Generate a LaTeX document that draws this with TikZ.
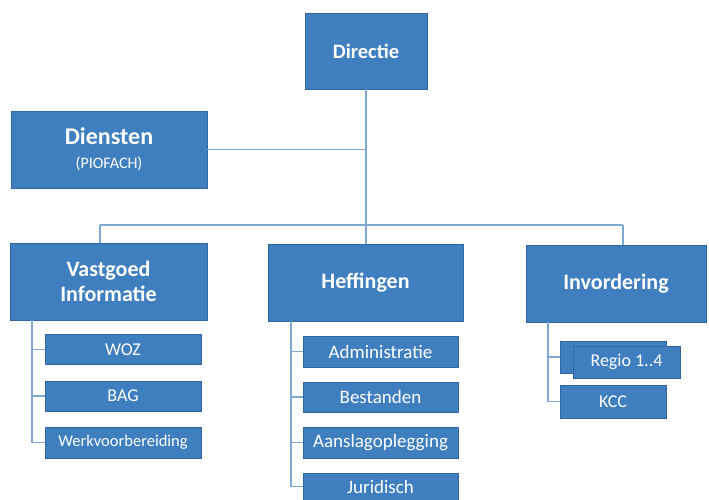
\documentclass[tikz,border=0pt]{standalone}
\usepackage{fontspec}
\setmainfont{Carlito}
\definecolor{boxfill}{HTML}{3F7FC0}
\definecolor{boxedge}{HTML}{2F679E}
\definecolor{linkcol}{HTML}{7FA8D3}
\begin{document}
\begin{tikzpicture}[x=1pt,y=-1pt,
  box/.style={draw=boxedge,fill=boxfill,line width=0.8pt,text=white,inner sep=0pt,align=center},
  bigbox/.style={box,font=\bfseries\fontsize{22}{25}\selectfont},
  subbox/.style={box,font=\fontsize{18}{20}\selectfont},
  hsub/.style={subbox,font=\fontsize{19}{21}\selectfont},
  link/.style={draw=linkcol,line width=1.1pt}]
\useasboundingbox[fill=white] (0,0) rectangle (709,500);
% top level
\node[bigbox,font=\bfseries\fontsize{20.5}{24}\selectfont,minimum width=122pt,minimum height=76pt] (dir) at (366,51) {Directie};
\node[bigbox,font=\bfseries\fontsize{24}{26}\selectfont,minimum width=196pt,minimum height=77pt] (die) at (109,149.5) {Diensten\\[-2pt]{\mdseries\fontsize{16}{18}\selectfont (PIOFACH)}};
\node[bigbox,minimum width=197pt,minimum height=77pt] (vgi) at (108.5,281.5) {Vastgoed\\Informatie};
\node[bigbox,minimum width=195pt,minimum height=77pt] (hef) at (365.5,282.5) {Heffingen};
\node[bigbox,minimum width=180pt,minimum height=77pt] (inv) at (616,283.5) {Invordering};
% sub boxes
\node[subbox,minimum width=156pt,minimum height=30pt] (woz) at (123,349.5) {WOZ};
\node[subbox,minimum width=156pt,minimum height=30pt] (bag) at (123,396) {BAG};
\node[subbox,font=\fontsize{16.5}{18}\selectfont,minimum width=156pt,minimum height=31pt] (wvb) at (123,442.5) {Werkvoorbereiding};
\node[hsub,minimum width=155pt,minimum height=31pt] (adm) at (380.5,351.5) {Administratie};
\node[hsub,minimum width=155pt,minimum height=30pt] (bes) at (380.5,397) {Bestanden};
\node[hsub,minimum width=155pt,minimum height=31pt] (aan) at (380.5,442.5) {Aanslagoplegging};
\node[hsub,minimum width=155pt,minimum height=27pt] (jur) at (380.5,486.5) {Juridisch};
\node[subbox,minimum width=106pt,minimum height=32pt] (regb) at (613,357) {};
\node[subbox,minimum width=107pt,minimum height=32pt] (reg) at (626.5,362) {Regio 1..4};
\node[subbox,minimum width=106pt,minimum height=33pt] (kcc) at (613,401.5) {KCC};
% connector points
\coordinate (bus) at (366,225);
\coordinate (busL) at (100,225);
\coordinate (busR) at (623,225);
\coordinate (vgiL) at (32,320);
\coordinate (hefL) at (291,321);
\coordinate (invL) at (548,322);
\draw[link] (dir.south) -- (bus);
\draw[link] (die.east) -- (die.east -| bus);
\draw[link] (busL) -- (busR);
\draw[link] (busL) -- (busL |- vgi.north);
\draw[link] (bus) -- (bus |- hef.north);
\draw[link] (busR) -- (busR |- inv.north);
\draw[link] (vgiL) |- (woz.west);
\draw[link] (vgiL) |- (bag.west);
\draw[link] (vgiL) |- (wvb.west);
\draw[link] (hefL) |- (adm.west);
\draw[link] (hefL) |- (bes.west);
\draw[link] (hefL) |- (aan.west);
\draw[link] (hefL) |- (jur.west);
\draw[link] (invL) |- (regb.west);
\draw[link] (invL) |- (kcc.west);
\end{tikzpicture}
\end{document}
